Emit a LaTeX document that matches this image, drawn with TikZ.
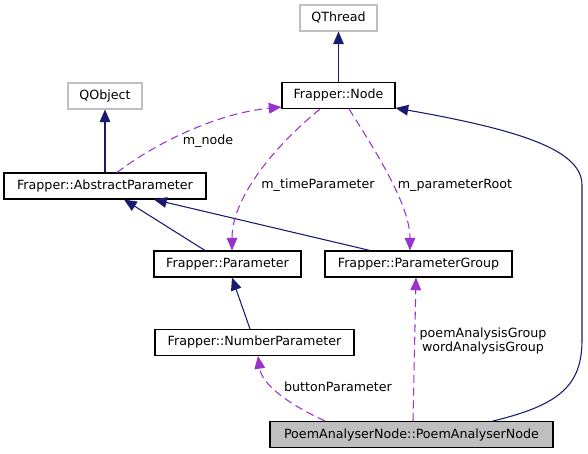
\documentclass[tikz,border=0pt]{standalone}
\usepackage{fontspec}
\setmainfont{DejaVu Sans}
\usepackage{tikz}
\usetikzlibrary{arrows.meta}
\definecolor{inhblue}{HTML}{191970}
\definecolor{usepurple}{HTML}{9A32CD}
\definecolor{extgray}{HTML}{BFBFBF}
\tikzset{
  cls/.style={draw=black,line width=0.8pt,inner sep=0pt,minimum height=19.5pt},
  extcls/.style={cls,draw=extgray},
  inh/.style={inhblue,line width=0.8pt,-{Triangle[length=9.5pt,width=8pt]}},
  uses/.style={usepurple,line width=0.8pt,dash pattern=on 6pt off 3.5pt,-{Triangle[length=9.5pt,width=8pt]}},
  lbl/.style={inner sep=0pt,align=center}
}
\begin{document}
\begin{tikzpicture}[x=0.75pt,y=-0.75pt,font=\fontsize{9.5pt}{10.5pt}\selectfont]
  \useasboundingbox (0,0) rectangle (588,453);
  % classes
  \node[extcls,minimum width=57.75pt] (QThread) at (338.5,18) {QThread};
  \node[cls,minimum width=84.75pt] (Node) at (338.5,95.5) {Frapper::Node};
  \node[extcls,minimum width=55.5pt] (QObject) at (105,96) {QObject};
  \node[cls,minimum width=151.5pt] (AbsParam) at (105,186) {Frapper::AbstractParameter};
  \node[cls,minimum width=110.25pt] (Param) at (227.5,264) {Frapper::Parameter};
  \node[cls,minimum width=140.25pt] (ParamGroup) at (418.5,264) {Frapper::ParameterGroup};
  \node[cls,minimum width=149.25pt] (NumParam) at (254.5,342.5) {Frapper::NumberParameter};
  \node[cls,fill=extgray,minimum width=212.25pt] (Poem) at (411.5,434.5) {PoemAnalyserNode::PoemAnalyserNode};
  % inheritance
  \draw[inh] (Node.north) -- (QThread.south);
  \draw[inh] (AbsParam.north) -- (QObject.south);
  \draw[inh] (Param.north -| 205,0) -- (AbsParam.south -| 124,0);
  \draw[inh] (ParamGroup.north -| 370,0) -- (AbsParam.south -| 154,0);
  \draw[inh] (NumParam.north -| 250,0) -- (Param.south -| 232,0);
  \draw[inh] (Poem.north -| 493,0) .. controls (560,405) and (582,385) .. (582,340)
    -- (582,185) .. controls (582,150) and (520,130) .. (Node.east |- 0,108);
  % usage
  \draw[uses] (AbsParam.north -| 117,0) .. controls (160,140) and (220,113) .. (Node.west |- 0,107);
  \draw[uses] (Node.south -| 320,0) .. controls (270,150) and (232,200) .. (Param.north -| 232,0);
  \draw[uses] (Node.south -| 349,0) .. controls (375,150) and (410,205) .. (ParamGroup.north -| 410,0);
  \draw[uses] (Poem.north -| 325,0) .. controls (290,405) and (262,385) .. (NumParam.south -| 258,0);
  \draw[uses] (Poem.north -| 413,0) -- (ParamGroup.south -| 416,0);
  % labels
  \node[lbl] (lNode) at (208,141) {m\_node};
  \node[lbl] (lTime) at (318,185) {m\_timeParameter};
  \node[lbl] (lRoot) at (455,185) {m\_parameterRoot};
  \node[lbl] (lButton) at (338,387) {buttonParameter};
  \node[lbl] (lGroup) at (483,341.5) {poemAnalysisGroup\\wordAnalysisGroup};
\end{tikzpicture}
\end{document}
